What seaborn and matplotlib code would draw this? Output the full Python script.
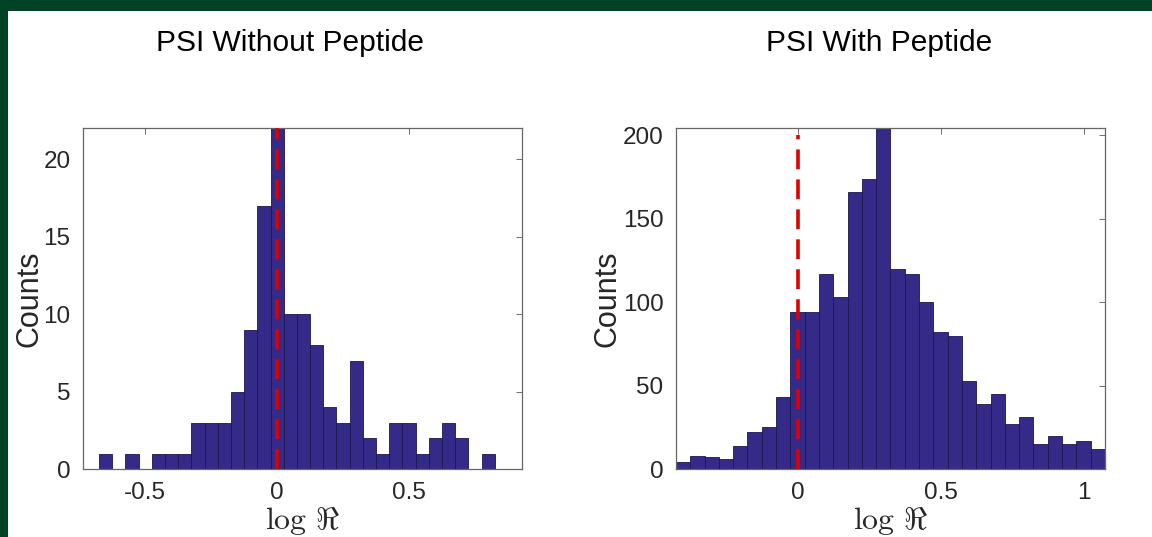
import numpy as np
import pandas as pd
import matplotlib
import matplotlib.pyplot as plt
from matplotlib.patches import Rectangle
import seaborn as sns
matplotlib.use('Agg')

# bin centres (log R) and counts
no_pep_centers = [-0.65, -0.60, -0.55, -0.50, -0.45, -0.40, -0.35, -0.30, -0.25, -0.20,
                  -0.15, -0.10, -0.05, 0.00, 0.05, 0.10, 0.15, 0.20, 0.25, 0.30,
                  0.35, 0.40, 0.45, 0.50, 0.55, 0.60, 0.65, 0.70, 0.75, 0.80]
no_pep_counts = [1, 0, 1, 0, 1, 1, 1, 3, 3, 3,
                 5, 9, 17, 24, 10, 10, 8, 4, 3, 7,
                 2, 1, 3, 3, 1, 2, 3, 2, 0, 1]

pep_centers = [-0.40, -0.35, -0.30, -0.25, -0.20, -0.15, -0.10, -0.05, 0.00, 0.05,
               0.10, 0.15, 0.20, 0.25, 0.30, 0.35, 0.40, 0.45, 0.50, 0.55,
               0.60, 0.65, 0.70, 0.75, 0.80, 0.85, 0.90, 0.95, 1.00, 1.05]
pep_counts = [4, 8, 7, 6, 14, 22, 25, 43, 94, 94,
              117, 103, 166, 174, 210, 120, 117, 100, 82, 80,
              53, 39, 45, 27, 31, 15, 20, 15, 17, 12]

titles = ["PSI Without Peptide", "PSI With Peptide"]
no_pep_xticks = [-0.5, 0, 0.5]
no_pep_yticks = [0, 5, 10, 15, 20]
pep_xticks = [0, 0.5, 1]
pep_yticks = [0, 50, 100, 150, 200]

BAR = "#352a87"
RED = "#e00000"
GREEN = "#004225"
TXT = "#262626"

sns.set_theme(style="white")
plt.rcParams['font.family'] = ['Liberation Sans', 'DejaVu Sans']
plt.rcParams['mathtext.fontset'] = 'cm'

fig = plt.figure(figsize=(11.52, 5.37), dpi=100, facecolor=GREEN)
fig.patches.append(Rectangle((8 / 1152, 0), 1, 1 - 11 / 537, transform=fig.transFigure,
                             facecolor="white", edgecolor="none", zorder=-10))


def draw(ax, centers, counts, binrange, xlim, ylim, xticks, yticks, line_top, ylab_x):
    df = pd.DataFrame({"x": centers, "n": counts})
    sns.histplot(data=df, x="x", weights="n", binwidth=0.05, binrange=binrange,
                 color=BAR, edgecolor="#1c1650", linewidth=0.6, alpha=1, ax=ax)
    ax.plot([0, 0], [0, line_top], color=RED, lw=2.6, dashes=(5.5, 2.8), zorder=5)
    ax.set_xlim(*xlim)
    ax.set_ylim(*ylim)
    ax.set_xticks(xticks)
    ax.set_xticklabels([f"{t:g}" for t in xticks])
    ax.set_yticks(yticks)
    ax.tick_params(direction="in", length=4, width=0.6, top=True, right=True,
                   labelsize=17.5, colors="#555555", labelcolor=TXT, pad=9)
    for s in ax.spines.values():
        s.set_color("#666666")
        s.set_linewidth(0.9)
    ax.set_xlabel(r"$\log\,\Re$", fontsize=23, color=TXT)
    ax.xaxis.set_label_coords(0.5, -0.105)
    ax.xaxis.label.set_va("top")
    ax.set_ylabel("Counts", fontsize=22, color=TXT)
    ax.yaxis.set_label_coords(ylab_x, 0.5)


ax1 = fig.add_axes([0.0720, 0.1266, 0.3811, 0.6350])
draw(ax1, no_pep_centers, no_pep_counts, (-0.675, 0.825), (-0.736, 0.928), (0, 22),
     no_pep_xticks, no_pep_yticks, 22, -0.088)

ax2 = fig.add_axes([0.5868, 0.1266, 0.3724, 0.6350])
draw(ax2, pep_centers, pep_counts, (-0.425, 1.075), (-0.425, 1.075), (0, 204.4),
     pep_xticks, pep_yticks, 200, -0.125)

fig.text(0.2517, 0.920, titles[0], ha="center", va="center", fontsize=21.5, color="black")
fig.text(0.763, 0.920, titles[1], ha="center", va="center", fontsize=21.5, color="black")

fig.savefig("out.png", dpi=100, facecolor=GREEN)
